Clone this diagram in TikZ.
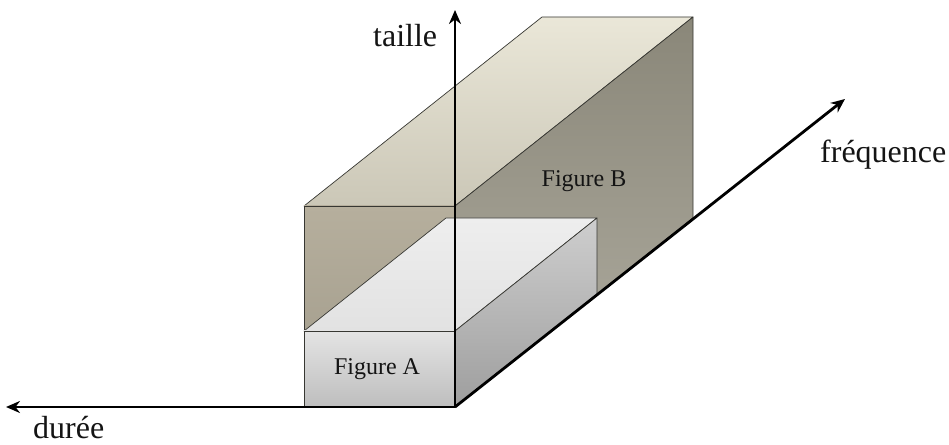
\documentclass[tikz,border=0pt]{standalone}
\usepackage{fontspec}
\setmainfont{Liberation Serif}
\usetikzlibrary{arrows.meta}
\definecolor{txt}{RGB}{20,20,20}
\definecolor{edge}{RGB}{55,55,50}
\tikzset{
  face/.style={draw=edge, line width=0.7bp, line join=round},
  axis/.style={draw=black, line width=2.8bp, -{Stealth[length=14bp,width=12bp,inset=4.5bp]}},
  biglabel/.style={text=txt, font=\fontsize{32bp}{36bp}\selectfont, inner sep=0pt},
  figlabel/.style={text=txt, font=\fontsize{24bp}{28bp}\selectfont, inner sep=0pt},
}
\begin{document}
\begin{tikzpicture}[x=1bp,y=-1bp]
\useasboundingbox (0,0) rectangle (949,445);
% key points
\coordinate (O) at (455,407);
\coordinate (tT) at (455,10);
\coordinate (tF) at (845,99);
\coordinate (tD) at (6,407);
% Figure B
\shade[face, top color={rgb,255:red,234;green,231;blue,216}, bottom color={rgb,255:red,203;green,199;blue,183}]
  (304,206) -- (455,206) -- (693,17) -- (542,17) -- cycle;
\shade[face, top color={rgb,255:red,138;green,135;blue,121}, bottom color={rgb,255:red,176;green,173;blue,161}]
  (455,206) -- (693,17) -- (693,218) -- (455,407) -- cycle;
\shade[face, top color={rgb,255:red,182;green,175;blue,157}, bottom color={rgb,255:red,160;green,154;blue,138}]
  (304,206) rectangle (455,407);
% Figure A
\shade[face, top color={rgb,255:red,238;green,238;blue,238}, bottom color={rgb,255:red,226;green,226;blue,226}]
  (304,331) -- (455,331) -- (597,218) -- (446,218) -- cycle;
\shade[face, top color={rgb,255:red,206;green,206;blue,206}, bottom color={rgb,255:red,158;green,158;blue,158}]
  (455,331) -- (597,218) -- (597,294) -- (455,407) -- cycle;
\shade[face, top color={rgb,255:red,228;green,228;blue,228}, bottom color={rgb,255:red,190;green,190;blue,190}]
  (304,331) rectangle (455,407);
% labels
\node[figlabel, anchor=base] (labA) at (377,375) {Figure A};
\node[figlabel, anchor=base] (labB) at (584,187) {Figure B};
% axes
\draw[axis] (O) -- (tT);
\draw[axis] (O) -- (tF);
\draw[axis] (O) -- (tD);
\node[biglabel, anchor=base west] (lT) at (373,47) {taille};
\node[biglabel, anchor=base west] (lF) at (820,163) {fréquence};
\node[biglabel, anchor=base west] (lD) at (33,438) {durée};
\end{tikzpicture}
\end{document}
